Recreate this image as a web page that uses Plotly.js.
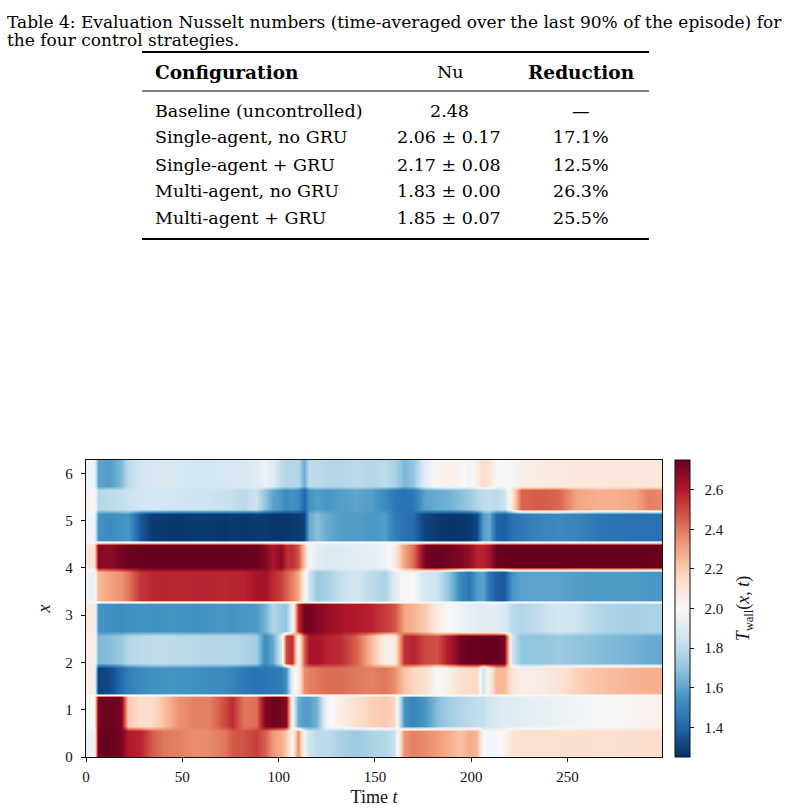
<!DOCTYPE html>
<html>
<head>
<meta charset="utf-8">
<script src="https://cdn.plot.ly/plotly-3.0.1.min.js"></script>
<style>html,body{margin:0;padding:0;background:#fff}</style>
</head>
<body>
<div id="chart" style="width:789px;height:811px"></div>
<script>
// ---- Table 4 contents ----
const configNames = ['Baseline (uncontrolled)', 'Single-agent, no GRU', 'Single-agent + GRU', 'Multi-agent, no GRU', 'Multi-agent + GRU'];
const nuMean = ['2.48', '2.06', '2.17', '1.83', '1.85'];
const nuStd = [null, '0.17', '0.08', '0.00', '0.07'];
const reduction = ['\u2014', '17.1%', '12.5%', '26.3%', '25.5%'];

// ---- Wall temperature field T_wall(x, t) ----
// time knots
const time = [0, 4, 6, 12, 18, 22, 28, 34, 40, 48,
              56, 64, 72, 76, 82, 88, 93, 97, 101, 104,
              107, 110, 113, 116, 120, 125, 132, 140, 148, 155,
              160, 165, 170, 176, 182, 188, 194, 199, 203, 206,
              209, 213, 217, 221, 226, 235, 245, 255, 265, 275,
              285, 292, 299];
// heater segment edges along the wall
const segEdges = [0, 0.61, 1.31, 1.94, 2.62, 3.28, 3.96, 4.54, 5.19, 5.69, 2 * Math.PI];
// temperature at the joint above each segment (null = plain blend into the next one)
const junctionT = [null, 2.0, null, null, 2.0, null, 2.0, null, null];

// temperature of each segment over time, bottom (seg0) to top (seg9)
const seg0 = [1.95, 1.96, 2.74, 2.75, 2.72, 2.60, 2.58, 2.46, 2.40, 2.38,
              2.35, 2.36, 2.40, 2.46, 2.48, 2.52, 2.45, 2.32, 2.28, 2.20,
              2.02, 2.35, 1.98, 1.84, 1.80, 1.80, 1.76, 1.72, 1.76, 1.78,
              1.82, 2.34, 2.38, 2.36, 2.32, 2.28, 2.22, 2.28, 2.25, 2.00,
              1.98, 1.98, 2.02, 2.10, 2.12, 2.12, 2.12, 2.13, 2.12, 2.12,
              2.13, 2.13, 2.13];
const seg1 = [2.00, 2.00, 2.72, 2.74, 2.72, 2.20, 2.13, 2.14, 2.22, 2.34,
              2.38, 2.38, 2.50, 2.56, 2.40, 2.42, 2.70, 2.74, 2.72, 2.68,
              1.98, 1.62, 1.58, 1.58, 1.65, 1.98, 2.05, 2.12, 2.18, 2.20,
              2.16, 1.55, 1.50, 1.56, 1.68, 1.74, 1.77, 1.80, 1.82, 1.82,
              1.86, 1.88, 1.90, 1.91, 1.92, 1.94, 1.95, 1.97, 1.99, 2.00,
              2.02, 2.03, 2.03];
const seg2 = [2.05, 2.05, 1.30, 1.32, 1.42, 1.48, 1.52, 1.54, 1.55, 1.55,
              1.54, 1.53, 1.52, 1.50, 1.46, 1.44, 1.45, 1.46, 1.47, 1.55,
              1.95, 2.05, 2.35, 2.38, 2.40, 2.42, 2.42, 2.40, 2.38, 2.40,
              2.36, 2.22, 2.16, 2.12, 2.00, 2.04, 2.12, 2.15, 2.15, 1.84,
              2.05, 2.25, 2.25, 2.10, 2.05, 2.06, 2.10, 2.18, 2.22, 2.24,
              2.26, 2.27, 2.27];
const seg3 = [2.05, 2.05, 1.66, 1.68, 1.72, 1.78, 1.80, 1.81, 1.81, 1.80,
              1.79, 1.78, 1.78, 1.78, 1.77, 1.74, 1.52, 1.62, 1.88, 2.50,
              2.55, 2.00, 2.45, 2.62, 2.62, 2.58, 2.56, 2.45, 2.25, 2.05,
              2.05, 2.55, 2.58, 2.50, 2.48, 2.60, 2.72, 2.75, 2.75, 2.75,
              2.75, 2.75, 2.72, 1.85, 1.70, 1.70, 1.72, 1.70, 1.68, 1.66,
              1.64, 1.62, 1.62];
const seg4 = [2.08, 2.07, 1.55, 1.54, 1.53, 1.54, 1.55, 1.54, 1.55, 1.55,
              1.54, 1.55, 1.56, 1.55, 1.56, 1.57, 1.64, 1.78, 1.72, 1.70,
              1.95, 2.55, 2.72, 2.73, 2.70, 2.66, 2.62, 2.60, 2.58, 2.52,
              2.48, 2.30, 2.26, 2.20, 2.06, 2.00, 1.96, 1.93, 1.92, 1.91,
              1.92, 1.92, 1.88, 1.80, 1.77, 1.82, 1.86, 1.84, 1.78, 1.76,
              1.75, 1.76, 1.76];
const seg5 = [1.95, 1.95, 2.25, 2.30, 2.34, 2.40, 2.54, 2.57, 2.58, 2.57,
              2.58, 2.58, 2.57, 2.58, 2.58, 2.62, 2.63, 2.56, 2.52, 2.45,
              2.38, 2.30, 2.05, 1.85, 1.72, 1.75, 1.82, 1.86, 1.80, 1.76,
              1.90, 2.02, 2.00, 1.86, 1.84, 1.70, 1.52, 1.45, 1.58, 1.60,
              1.45, 1.38, 1.36, 1.55, 1.60, 1.60, 1.60, 1.58, 1.57, 1.57,
              1.57, 1.56, 1.56];
const seg6 = [2.10, 2.10, 2.68, 2.68, 2.72, 2.74, 2.75, 2.75, 2.75, 2.75,
              2.75, 2.75, 2.75, 2.75, 2.75, 2.74, 2.70, 2.62, 2.68, 2.56,
              2.55, 2.48, 2.22, 1.98, 1.92, 1.90, 1.90, 1.92, 1.93, 1.96,
              2.06, 2.30, 2.42, 2.72, 2.75, 2.73, 2.70, 2.66, 2.58, 2.58,
              2.62, 2.75, 2.75, 2.75, 2.75, 2.75, 2.75, 2.75, 2.75, 2.75,
              2.75, 2.75, 2.75];
const seg7 = [1.98, 1.97, 1.55, 1.52, 1.55, 1.56, 1.36, 1.28, 1.28, 1.27,
              1.28, 1.28, 1.27, 1.28, 1.27, 1.28, 1.28, 1.27, 1.27, 1.27,
              1.28, 1.28, 1.30, 1.62, 1.68, 1.62, 1.58, 1.58, 1.56, 1.58,
              1.48, 1.44, 1.42, 1.30, 1.28, 1.27, 1.27, 1.28, 1.32, 1.58,
              1.62, 1.40, 1.38, 1.44, 1.46, 1.50, 1.52, 1.50, 1.46, 1.45,
              1.44, 1.44, 1.44];
const seg8 = [2.03, 2.02, 1.78, 1.80, 1.82, 1.84, 1.85, 1.86, 1.86, 1.85,
              1.84, 1.84, 1.83, 1.82, 1.80, 1.84, 1.70, 1.60, 1.56, 1.52,
              1.55, 1.52, 1.40, 1.55, 1.58, 1.56, 1.58, 1.60, 1.58, 1.52,
              1.46, 1.44, 1.46, 1.60, 1.62, 1.64, 1.68, 1.72, 1.78, 1.80,
              1.82, 1.80, 1.84, 2.10, 2.44, 2.46, 2.44, 2.30, 2.27, 2.27,
              2.30, 2.38, 2.36];
const seg9 = [1.97, 1.97, 1.60, 1.58, 1.66, 1.80, 1.86, 1.87, 1.88, 1.87,
              1.86, 1.86, 1.87, 1.87, 1.88, 1.90, 1.96, 1.90, 1.80, 1.78,
              1.78, 1.78, 1.62, 1.80, 1.80, 1.78, 1.78, 1.80, 1.78, 1.80,
              1.76, 1.66, 1.70, 1.92, 2.02, 2.04, 2.02, 1.97, 2.06, 2.13,
              2.10, 2.00, 1.99, 2.02, 2.05, 2.06, 2.07, 2.08, 2.08, 2.09,
              2.08, 2.08, 2.08];

const segments = [seg0, seg1, seg2, seg3, seg4, seg5, seg6, seg7, seg8, seg9];

// build the (x, t) grid: each segment holds its value over most of its width,
// with a short blend (or a joint value) at its edges
const pad = 0.05;
const yKnots = [];
const zRows = [];
segments.forEach((vals, i) => {
  const lo = segEdges[i], hi = segEdges[i + 1];
  yKnots.push(i === 0 ? lo : lo + pad); zRows.push(vals);
  yKnots.push(i === segments.length - 1 ? hi : hi - pad); zRows.push(vals);
  if (i < junctionT.length && junctionT[i] !== null) {
    yKnots.push(hi); zRows.push(time.map(() => junctionT[i]));
  }
});

// matplotlib RdBu_r
const rdbuR = [
  [0.0, '#053061'], [0.1, '#2166ac'], [0.2, '#4393c3'], [0.3, '#92c5de'],
  [0.4, '#d1e5f0'], [0.5, '#f7f7f7'], [0.6, '#fddbc7'], [0.7, '#f4a582'],
  [0.8, '#d6604d'], [0.9, '#b2182b'], [1.0, '#67001f']
];

const cbTicks = [1.4, 1.6, 1.8, 2.0, 2.2, 2.4, 2.6];

const heat = {
  type: 'heatmap',
  x: time,
  y: yKnots,
  z: zRows,
  zsmooth: 'best',
  colorscale: rdbuR,
  zmin: 1.25,
  zmax: 2.75,
  hoverinfo: 'skip',
  colorbar: {
    x: 1.0226, xanchor: 'left', xpad: 0,
    y: 0.5, yanchor: 'middle', ypad: 0,
    len: 1, lenmode: 'fraction',
    thickness: 15, thicknessmode: 'pixels',
    outlinewidth: 1, outlinecolor: '#111',
    ticks: 'outside', ticklen: 4, tickwidth: 1, tickcolor: '#111',
    tickvals: cbTicks, ticktext: cbTicks.map(v => '\u00a0\u00a0' + v.toFixed(1) + '\u00a0\u00a0'),
    tickfont: {family: 'Liberation Serif', size: 15, color: '#111'},
    title: {text: '<i>T</i><sub>wall</sub>(<i>x</i>, <i>t</i>)', side: 'right',
            font: {family: 'Liberation Serif', size: 18, color: '#111'}}
  }
};

// ---- page geometry helpers (pixels -> paper fractions of the plot area) ----
const M = {l: 86, r: 127, t: 460, b: 54};
const W = 789 - M.l - M.r, H = 811 - M.t - M.b;
const px = x => (x - M.l) / W;
const py = y => (811 - M.b - y) / H;

const capFont = {family: 'DejaVu Serif', size: 17, color: '#000'};
const tf = {family: 'DejaVu Serif', size: 17.5, color: '#000'};
const tfb = {family: 'DejaVu Serif', size: 18.5, color: '#000', weight: 'bold'};

const annotations = [];
function addText(text, x, y, anchor, font) {
  annotations.push({text, x: px(x), y: py(y), xref: 'paper', yref: 'paper',
    xanchor: anchor, yanchor: 'middle', showarrow: false, font, borderpad: 0});
}

addText('Table 4: Evaluation Nusselt numbers (time-averaged over the last 90% of the episode) for', 6, 22, 'left', capFont);
addText('the four control strategies.', 6, 40, 'left', capFont);

addText('<b>Configuration</b>', 154, 72, 'left', tfb);
addText('Nu', 450, 72, 'center', tf);
addText('<b>Reduction</b>', 581, 72, 'center', tfb);

const rowY = [111, 137.5, 164.5, 191, 218];
configNames.forEach((name, i) => {
  addText(name, 154, rowY[i], 'left', tf);
  const nu = nuStd[i] === null ? nuMean[i] : nuMean[i] + ' \u00b1 ' + nuStd[i];
  addText(nu, 449, rowY[i], 'center', tf);
  addText(reduction[i], 581, rowY[i], 'center', tf);
});

function rule(y, w) {
  return {type: 'line', xref: 'paper', yref: 'paper', x0: px(142), x1: px(649),
          y0: py(y), y1: py(y), line: {color: '#000', width: w}};
}

const layout = {
  width: 789, height: 811,
  margin: M,
  paper_bgcolor: '#ffffff', plot_bgcolor: '#ffffff',
  font: {family: 'Liberation Serif', color: '#111', size: 15},
  showlegend: false,
  xaxis: {
    range: [0, 299], tickvals: [0, 50, 100, 150, 200, 250],
    ticks: 'outside', ticklen: 4, tickwidth: 1, tickcolor: '#111',
    ticklabelstandoff: 2,
    showline: true, linecolor: '#111', linewidth: 1.2, mirror: true,
    showgrid: false, zeroline: false,
    tickfont: {family: 'Liberation Serif', size: 15, color: '#111'},
    title: {text: 'Time <i>t</i>', standoff: 6, font: {family: 'Liberation Serif', size: 18, color: '#111'}}
  },
  yaxis: {
    range: [0, 2 * Math.PI], tickvals: [0, 1, 2, 3, 4, 5, 6],
    ticks: 'outside', ticklen: 4, tickwidth: 1, tickcolor: '#111',
    ticklabelstandoff: 5,
    showline: true, linecolor: '#111', linewidth: 1.2, mirror: true,
    showgrid: false, zeroline: false,
    tickfont: {family: 'Liberation Serif', size: 15, color: '#111'},
    title: {text: '<i>x</i>', standoff: 10, font: {family: 'Liberation Serif', size: 18, color: '#111'}}
  },
  annotations,
  shapes: [rule(52, 1.8), rule(91, 1.1), rule(239, 1.8)]
};

Plotly.newPlot('chart', [heat], layout, {displayModeBar: false, staticPlot: true});
</script>
</body>
</html>
